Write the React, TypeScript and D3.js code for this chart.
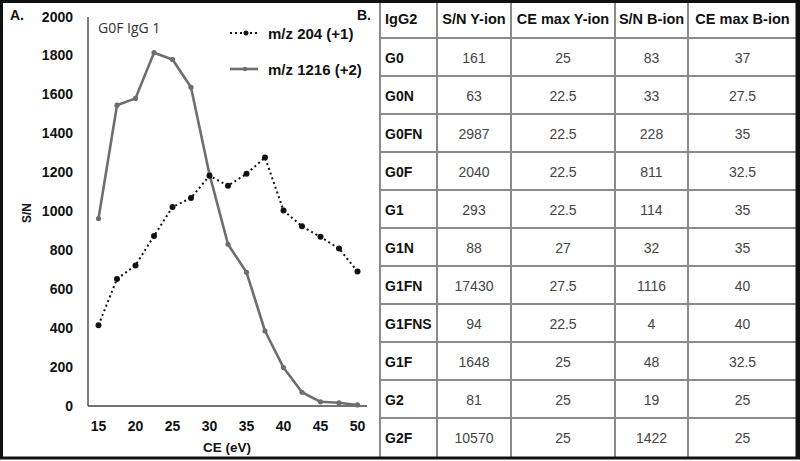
import React from 'react';
import * as d3 from 'd3';

// panel A: S/N vs collision energy
const ceValues = [15, 17.5, 20, 22.5, 25, 27.5, 30, 32.5, 35, 37.5, 40, 42.5, 45, 47.5, 50];
const mz204 = [413, 651, 720, 872, 1020, 1067, 1181, 1130, 1191, 1275, 1003, 921, 867, 807, 689];
const mz1216 = [961, 1544, 1579, 1814, 1779, 1636, 1188, 829, 685, 383, 195, 68, 19, 14, 3];
const yTicks = [0, 200, 400, 600, 800, 1000, 1200, 1400, 1600, 1800, 2000];
const xTicks = [15, 20, 25, 30, 35, 40, 45, 50];

// panel B: table
const tableHeader = ['IgG2', 'S/N Y-ion', 'CE max Y-ion', 'S/N B-ion', 'CE max B-ion'];
const glycans = ['G0', 'G0N', 'G0FN', 'G0F', 'G1', 'G1N', 'G1FN', 'G1FNS', 'G1F', 'G2', 'G2F'];
const snY = ['161', '63', '2987', '2040', '293', '88', '17430', '94', '1648', '81', '10570'];
const ceMaxY = ['25', '22.5', '22.5', '22.5', '22.5', '27', '27.5', '22.5', '25', '25', '25'];
const snB = ['83', '33', '228', '811', '114', '32', '1116', '4', '48', '19', '1422'];
const ceMaxB = ['37', '27.5', '35', '32.5', '35', '35', '40', '40', '32.5', '25', '25'];

const W = 800;
const H = 461;
const bold = '"Liberation Sans", Arial, sans-serif';

export default function App() {
  const x = d3.scaleLinear().domain([15, 50]).range([98.5, 357.5]);
  const y = d3.scaleLinear().domain([0, 2000]).range([405.5, 16.5]);

  const line = d3
    .line<number>()
    .x((_, i) => x(ceValues[i]))
    .y((d) => y(d));

  // table layout
  const colEdges = [380, 437, 511, 615, 688, 797];
  const rows = ['header', ...glycans];
  const rowScale = d3.scaleBand().domain(rows).range([0, 456]);
  const cells = [glycans, snY, ceMaxY, snB, ceMaxB];

  return (
    <svg
      width={W}
      height={H}
      style={{position: 'absolute', left: 0, top: 0, background: '#fff'}}
    >
      {/* axes */}
      <line x1={88} x2={88} y1={17} y2={406} stroke="#555" strokeWidth={1.5} />
      <line x1={88} x2={367} y1={406} y2={406} stroke="#444" strokeWidth={1.5} />

      {yTicks.map((t) => (
        <text
          key={'y' + t}
          x={73}
          y={y(t)}
          textAnchor="end"
          dominantBaseline="central"
          fontFamily={bold}
          fontWeight="bold"
          fontSize={14}
          fill="#111"
        >
          {t}
        </text>
      ))}
      {xTicks.map((t) => (
        <text
          key={'x' + t}
          x={x(t)}
          y={426}
          textAnchor="middle"
          dominantBaseline="central"
          fontFamily={bold}
          fontWeight="bold"
          fontSize={14}
          fill="#111"
        >
          {t}
        </text>
      ))}
      <text x={227} y={447} textAnchor="middle" dominantBaseline="central" fontFamily={bold} fontWeight="bold" fontSize={13.5} fill="#111">
        CE (eV)
      </text>
      <text
        transform="translate(27,213) rotate(-90)"
        textAnchor="middle"
        dominantBaseline="central"
        fontFamily={bold}
        fontWeight="bold"
        fontSize={12}
        fill="#111"
      >
        S/N
      </text>
      <text x={10} y={20} fontFamily={bold} fontWeight="bold" fontSize={14} fill="#111">
        A.
      </text>
      <text x={98} y={33} fontFamily='"Open Sans", sans-serif' fontSize={14} fill="#333">
        G0F IgG 1
      </text>

      {/* series */}
      <path d={line(mz1216) || ''} fill="none" stroke="#6e6e6e" strokeWidth={2.6} strokeLinejoin="round" />
      {mz1216.map((v, i) => (
        <circle key={'s' + i} cx={x(ceValues[i])} cy={y(v)} r={2.6} fill="#6e6e6e" />
      ))}
      <path d={line(mz204) || ''} fill="none" stroke="#111" strokeWidth={2} strokeDasharray="2,3" />
      {mz204.map((v, i) => (
        <circle key={'d' + i} cx={x(ceValues[i])} cy={y(v)} r={3} fill="#111" />
      ))}

      {/* legend */}
      <line x1={230} x2={257} y1={33} y2={33} stroke="#111" strokeWidth={2} strokeDasharray="2,3" />
      <circle cx={246} cy={33} r={2.5} fill="#111" />
      <text x={268} y={33} dominantBaseline="central" fontFamily={bold} fontWeight="bold" fontSize={15} fill="#111">
        m/z 204 (+1)
      </text>
      <line x1={230} x2={258} y1={69} y2={69} stroke="#6e6e6e" strokeWidth={2.6} />
      <circle cx={245} cy={69} r={2.3} fill="#6e6e6e" />
      <text x={268} y={69} dominantBaseline="central" fontFamily={bold} fontWeight="bold" fontSize={15} fill="#111">
        m/z 1216 (+2)
      </text>
      <text x={357} y={20} fontFamily={bold} fontWeight="bold" fontSize={14} fill="#111">
        B.
      </text>

      {/* table */}
      {rows.slice(1).map((r) => (
        <line
          key={'rl' + r}
          x1={colEdges[0]}
          x2={colEdges[5]}
          y1={rowScale(r)}
          y2={rowScale(r)}
          stroke="#8a8a8a"
          strokeWidth={2}
        />
      ))}
      {colEdges.slice(0, 5).map((cx, i) => (
        <line key={'cl' + i} x1={cx} x2={cx} y1={0} y2={458} stroke="#8a8a8a" strokeWidth={2} />
      ))}
      {tableHeader.map((h, c) => (
        <text
          key={'h' + c}
          x={c === 0 ? colEdges[0] + 5 : (colEdges[c] + colEdges[c + 1]) / 2}
          y={(rowScale('header') || 0) + rowScale.bandwidth() / 2}
          textAnchor={c === 0 ? 'start' : 'middle'}
          dominantBaseline="central"
          fontFamily={bold}
          fontWeight="bold"
          fontSize={14.5}
          fill="#111"
        >
          {h}
        </text>
      ))}
      {glycans.map((g, r) =>
        cells.map((col, c) => (
          <text
            key={g + c}
            x={c === 0 ? colEdges[0] + 5 : (colEdges[c] + colEdges[c + 1]) / 2}
            y={(rowScale(g) || 0) + rowScale.bandwidth() / 2 + 1}
            textAnchor={c === 0 ? 'start' : 'middle'}
            dominantBaseline="central"
            fontFamily={bold}
            fontWeight={c === 0 ? 'bold' : 'normal'}
            fontSize={c === 0 ? 14 : 14}
            fill={c === 0 ? '#111' : '#444'}
          >
            {col[r]}
          </text>
        ))
      )}

      {/* frame */}
      <rect x={1.5} y={1.5} width={W - 3} height={458 - 1.5} fill="none" stroke="#111" strokeWidth={3} />
      <line x1={797} x2={797} y1={0} y2={459} stroke="#111" strokeWidth={3} />
    </svg>
  );
}
